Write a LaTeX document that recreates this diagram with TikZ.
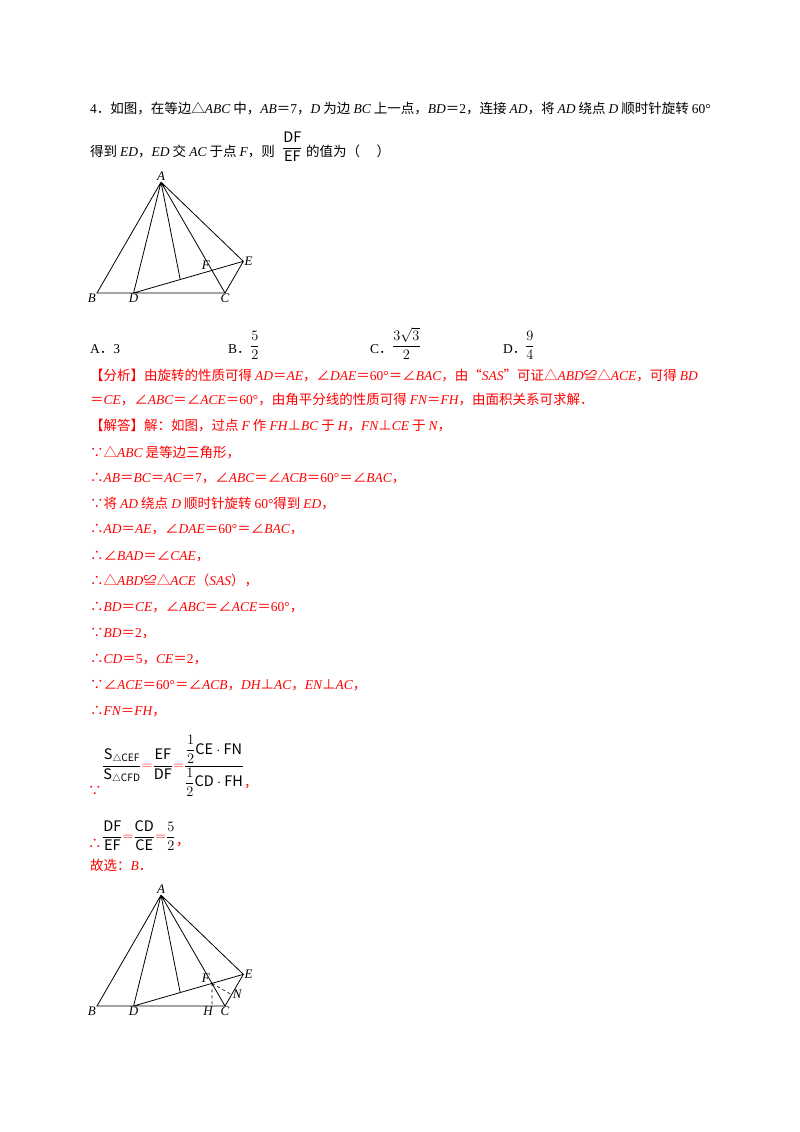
\documentclass[tikz,border=0pt]{standalone}
\usepackage{amsmath}
\usepackage{fontspec}
\usetikzlibrary{positioning,calc}
\setmainfont{Noto Sans CJK SC}
\newfontfamily\tms{Liberation Serif}
\newcommand\m[1]{{\tms\itshape #1}}
\newcommand\n[1]{{\tms #1}}
\begin{document}
\begin{tikzpicture}[x=1pt,y=-1pt,
  txt/.style={anchor=base west,inner sep=0pt,font=\fontsize{13.5}{16}\selectfont},
  rtxt/.style={txt,text=red},
  frm/.style={anchor=south west,inner sep=0pt,font=\fontsize{14.5}{17}\selectfont},
  lbl/.style={inner sep=1pt,font=\fontsize{13}{15}\selectfont\tms\itshape},
  seg/.style={line width=0.8pt}]
\useasboundingbox (0,0) rectangle (800,1132);
\fill[white] (0,0) rectangle (800,1132);
% question
\node[txt] (q1) at (90,113) {\n{4}．如图，在等边△\m{ABC} 中，\m{AB}＝\n{7}，\m{D} 为边 \m{BC} 上一点，\m{BD}＝\n{2}，连接 \m{AD}，将 \m{AD} 绕点 \m{D} 顺时针旋转 \n{60°}};
\node[txt] (q2) at (90,156) {得到 \m{ED}，\m{ED} 交 \m{AC} 于点 \m{F}，则};
\node[frm] (q2f) at (282,162) {$\dfrac{\mathrm{DF}}{\mathrm{EF}}$};
\node[txt] (q2b) at (306,156) {的值为（\quad\ ）};
\node[txt] (oa) at (90,353) {\n{A}．\n{3}};
\node[txt] (ob) at (228,353) {\n{B}．};
\node[frm] (obf) at (250,360) {$\dfrac{5}{2}$};
\node[txt] (oc) at (370,353) {\n{C}．};
\node[frm] (ocf) at (392,360) {$\dfrac{3\sqrt3}{2}$};
\node[txt] (od) at (503,353) {\n{D}．};
\node[frm] (odf) at (525,360) {$\dfrac{9}{4}$};
% top figure
\begin{scope}[shift={(97,293)},x=18.29pt,y=18.29pt]
\coordinate (B) at (0,0); \coordinate (C) at (7,0); \coordinate (A) at (3.5,6.062);
\coordinate (D) at (2,0); \coordinate (E) at (8,1.732); \coordinate (G) at (4.55,0.736);
\coordinate (F) at (6.286,1.237);
\draw[seg] (A)--(B)--(C)--(A) (A)--(D) (A)--(G) (A)--(E)--(C) (D)--(E);
\node[lbl,above] (lA) at (A) {A};
\node[lbl,below left] (lB) at (B) {B};
\node[lbl,below] (lD) at (D) {D};
\node[lbl,below] (lC) at (C) {C};
\node[lbl,right] (lE) at (E) {E};
\node[lbl,above left=0pt and 1pt] (lF) at (F) {F};
\end{scope}
% analysis
\node[rtxt] (r1) at (90,380) {【分析】由旋转的性质可得 \m{AD}＝\m{AE}，∠\m{DAE}＝\n{60°}＝∠\m{BAC}，由“\m{SAS}”可证△\m{ABD}≌△\m{ACE}，可得 \m{BD}};
\node[rtxt] (r2) at (90,404) {＝\m{CE}，∠\m{ABC}＝∠\m{ACE}＝\n{60°}，由角平分线的性质可得 \m{FN}＝\m{FH}，由面积关系可求解．};
\node[rtxt] (r3) at (90,430) {【解答】解：如图，过点 \m{F} 作 \m{FH}⊥\m{BC} 于 \m{H}，\m{FN}⊥\m{CE} 于 \m{N}，};
\node[rtxt] (r4) at (90,457) {∵△\m{ABC} 是等边三角形，};
\node[rtxt] (r5) at (90,482) {∴\m{AB}＝\m{BC}＝\m{AC}＝\n{7}，∠\m{ABC}＝∠\m{ACB}＝\n{60°}＝∠\m{BAC}，};
\node[rtxt] (r6) at (90,508) {∵将 \m{AD} 绕点 \m{D} 顺时针旋转 \n{60°}得到 \m{ED}，};
\node[rtxt] (r7) at (90,533) {∴\m{AD}＝\m{AE}，∠\m{DAE}＝\n{60°}＝∠\m{BAC}，};
\node[rtxt] (r8) at (90,560) {∴∠\m{BAD}＝∠\m{CAE}，};
\node[rtxt] (r9) at (90,585) {∴△\m{ABD}≌△\m{ACE}（\m{SAS}），};
\node[rtxt] (r10) at (90,611) {∴\m{BD}＝\m{CE}，∠\m{ABC}＝∠\m{ACE}＝\n{60°}，};
\node[rtxt] (r11) at (90,637) {∵\m{BD}＝\n{2}，};
\node[rtxt] (r12) at (90,663) {∴\m{CD}＝\n{5}，\m{CE}＝\n{2}，};
\node[rtxt] (r13) at (90,689) {∵∠\m{ACE}＝\n{60°}＝∠\m{ACB}，\m{DH}⊥\m{AC}，\m{EN}⊥\m{AC}，};
\node[rtxt] (r14) at (90,715) {∴\m{FN}＝\m{FH}，};
\node[rtxt] (f1) at (88,795) {∵};
\node[frm] (f1m) at (102,797)
  {$\dfrac{\mathrm{S}_{\triangle\mathrm{CEF}}}{\mathrm{S}_{\triangle\mathrm{CFD}}}\textcolor{red}{=}\dfrac{\mathrm{EF}}{\mathrm{DF}}\textcolor{red}{=}\dfrac{\dfrac12\mathrm{CE}\cdot\mathrm{FN}}{\dfrac12\mathrm{CD}\cdot\mathrm{FH}}$};
\node[rtxt] (f1c) at (244,787) {，};
\node[rtxt] (f2) at (88,848) {∴};
\node[frm] (f2m) at (102,851)
  {$\dfrac{\mathrm{DF}}{\mathrm{EF}}\textcolor{red}{=}\dfrac{\mathrm{CD}}{\mathrm{CE}}\textcolor{red}{=}\dfrac{5}{2}$};
\node[rtxt] (f2c) at (176,845) {，};
\node[rtxt] (g) at (90,870) {故选：\m{B}．};
% bottom figure
\begin{scope}[shift={(97,1006)},x=18.29pt,y=18.29pt]
\coordinate (B2) at (0,0); \coordinate (C2) at (7,0); \coordinate (A2) at (3.5,6.062);
\coordinate (D2) at (2,0); \coordinate (E2) at (8,1.732); \coordinate (G2) at (4.55,0.736);
\coordinate (F2) at (6.286,1.237); \coordinate (H2) at (6.286,0);
\coordinate (N2) at ($(C2)!(F2)!(E2)$);
\draw[seg] (A2)--(B2)--(C2)--(A2) (A2)--(D2) (A2)--(G2) (A2)--(E2)--(C2) (D2)--(E2);
\draw[dashed,line width=0.6pt] (F2)--(H2) (F2)--(N2);
\node[lbl,above] (lA2) at (A2) {A};
\node[lbl,below left] (lB2) at (B2) {B};
\node[lbl,below] (lD2) at (D2) {D};
\node[lbl,below] (lC2) at (C2) {C};
\node[lbl,below left=0pt and -2pt] (lH2) at (H2) {H};
\node[lbl,right] (lE2) at (E2) {E};
\node[lbl,right] (lN2) at (N2) {N};
\node[lbl,above left=0pt and 1pt] (lF2) at (F2) {F};
\end{scope}
\end{tikzpicture}
\end{document}
